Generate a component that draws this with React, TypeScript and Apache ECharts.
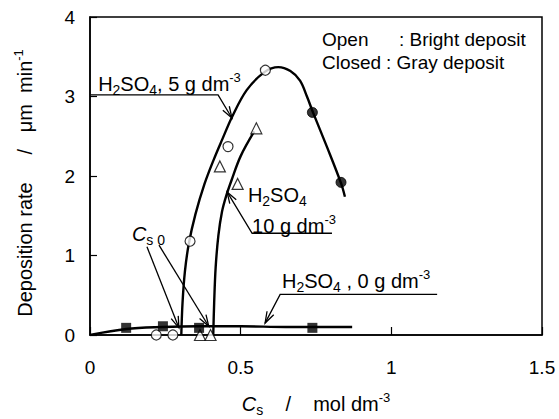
import React, { useEffect, useRef } from 'react';
import * as echarts from 'echarts';

const FONT = '"Liberation Sans", Arial, Helvetica, sans-serif';

// axis ranges / ticks
const xTicks = [0, 0.5, 1, 1.5];
const yTicks = [0, 1, 2, 3, 4];

// fitted curves
const curve5g = [
  [0.303, 0], [0.307, 0.4], [0.315, 0.8], [0.328, 1.15], [0.35, 1.52], [0.38, 1.9],
  [0.41, 2.2], [0.44, 2.47], [0.471, 2.74], [0.52, 3.08], [0.58, 3.31], [0.625, 3.37],
  [0.665, 3.32], [0.697, 3.2], [0.72, 3.0], [0.74, 2.8], [0.787, 2.36], [0.833, 1.91], [0.846, 1.74],
];
const curve10g = [
  [0.409, 0], [0.412, 0.4], [0.417, 0.85], [0.426, 1.25], [0.438, 1.55], [0.452, 1.75],
  [0.47, 1.95], [0.5, 2.25], [0.545, 2.56],
];
const curve0g = [
  [0, 0], [0.12, 0.075], [0.24, 0.1], [0.36, 0.11], [0.5, 0.11], [0.65, 0.1], [0.87, 0.1],
];

// measured points
const openCircles = [[0.22, 0], [0.275, 0], [0.332, 1.18], [0.458, 2.37], [0.582, 3.33]];
const filledCircles = [[0.738, 2.8], [0.833, 1.92]];
const openTriangles = [[0.365, 0], [0.4, 0], [0.431, 2.12], [0.49, 1.9], [0.552, 2.6]];
const filledSquares = [[0.12, 0.09], [0.242, 0.11], [0.362, 0.09], [0.738, 0.09]];

// annotation leader lines (data coordinates, arrow at the last point)
const arrowPaths = [
  [[0.003, 3.02], [0.425, 3.02], [0.471, 2.73]],
  [[0.803, 1.28], [0.538, 1.28], [0.455, 1.8]],
  [[1.152, 0.51], [0.631, 0.51], [0.581, 0.15]],
  [[0.189, 1.11], [0.295, 0.09]],
  [[0.229, 1.13], [0.394, 0.11]],
];

// annotation labels (data coordinates of left-middle anchor)
const annotationTexts = [
  { at: [0.027, 3.16], text: 'H{sub|2}SO{sub|4}, 5 g dm{sup|-3}' },
  { at: [0.524, 1.76], text: 'H{sub|2}SO{sub|4}' },
  { at: [0.538, 1.37], text: '10 g dm{sup|-3}' },
  { at: [0.637, 0.68], text: 'H{sub|2}SO{sub|4} , 0 g dm{sup|-3}' },
  { at: [0.139, 1.27], text: '{i|C}{sub|s 0}' },
];

const legendRows = [
  { key: 'Open', desc: ': Bright deposit', descX: 399 },
  { key: 'Closed', desc: ': Gray deposit', descX: 386 },
];

const rich = {
  sub: { fontSize: 14, fontFamily: FONT, verticalAlign: 'bottom', lineHeight: 26, fill: '#000', color: '#000' },
  sup: { fontSize: 13, fontFamily: FONT, verticalAlign: 'top', lineHeight: 26, fill: '#000', color: '#000' },
  i: { fontSize: 20, fontFamily: FONT, fontStyle: 'italic', lineHeight: 26, fill: '#000', color: '#000' },
};

export default function App() {
  const ref = useRef<HTMLDivElement>(null);
  useEffect(() => {
    if (!ref.current) return;
    const chart = echarts.init(ref.current, undefined, { renderer: 'svg' });
    const lineStyle = { color: '#000', width: 2.4 };
    const option: any = {
      animation: false,
      backgroundColor: '#fff',
      grid: {
        left: 90, right: 17, top: 17, bottom: 84, containLabel: false, outerBoundsMode: 'none',
        show: true, borderColor: '#000', borderWidth: 1.5, backgroundColor: 'transparent',
      },
      xAxis: {
        type: 'value', min: xTicks[0], max: xTicks[xTicks.length - 1], interval: 0.5,
        axisLine: { show: true, lineStyle: { color: '#000', width: 1.5 } },
        axisTick: { show: true, inside: true, length: 8, lineStyle: { color: '#000', width: 1.2 } },
        splitLine: { show: false },
        axisLabel: { color: '#000', fontSize: 19, fontFamily: FONT, margin: 23 },
        name: '{i|C}{sub|s}    /    mol dm{sup|-3}',
        nameLocation: 'middle', nameGap: 56,
        nameTextStyle: { color: '#000', fontSize: 20, fontFamily: FONT, lineHeight: 26, rich },
      },
      yAxis: {
        type: 'value', min: yTicks[0], max: yTicks[yTicks.length - 1], interval: 1,
        axisLine: { show: true, lineStyle: { color: '#000', width: 1.5 } },
        axisTick: { show: true, inside: true, length: 7, lineStyle: { color: '#000', width: 1.2 } },
        splitLine: { show: false },
        axisLabel: { color: '#000', fontSize: 19, fontFamily: FONT, margin: 15 },
        name: 'Deposition rate     /   μm  min{sup|-1}',
        nameLocation: 'middle', nameGap: 52, nameRotate: 90,
        nameTextStyle: { color: '#000', fontSize: 20, fontFamily: FONT, lineHeight: 26, padding: [0, 14, 0, 0], rich },
      },
      series: [
        { type: 'line', data: curve5g, smooth: 0.35, showSymbol: false, symbol: 'none', lineStyle, z: 3 },
        { type: 'line', data: curve10g, smooth: 0.35, showSymbol: false, symbol: 'none', lineStyle, z: 3 },
        { type: 'line', data: curve0g, smooth: 0.35, showSymbol: false, symbol: 'none', lineStyle, z: 3 },
        { type: 'scatter', data: openCircles, symbol: 'circle', symbolSize: 10, itemStyle: { color: '#fff', borderColor: '#000', borderWidth: 1.2 }, z: 5 },
        { type: 'scatter', data: filledCircles, symbol: 'circle', symbolSize: 10, itemStyle: { color: '#000', borderColor: '#000', borderWidth: 1 }, z: 5 },
        { type: 'scatter', data: openTriangles, symbol: 'triangle', symbolSize: 11, itemStyle: { color: '#fff', borderColor: '#000', borderWidth: 1.2 }, z: 5 },
        { type: 'scatter', data: filledSquares, symbol: 'rect', symbolSize: 10, itemStyle: { color: '#000' }, z: 5 },
        {
          type: 'custom', z: 4, silent: true,
          data: arrowPaths.map((p) => p[p.length - 1]),
          renderItem: (params: any, api: any) => {
            const pts = arrowPaths[params.dataIndex].map((p) => api.coord(p));
            const n = pts.length;
            const [x2, y2] = pts[n - 1];
            const [x1, y1] = pts[n - 2];
            const len = Math.hypot(x2 - x1, y2 - y1) || 1;
            const bx = -(x2 - x1) / len, by = -(y2 - y1) / len;
            const L = 12, a = 0.32, c = Math.cos(a), s = Math.sin(a);
            const h1 = [x2 + L * (bx * c - by * s), y2 + L * (bx * s + by * c)];
            const h2 = [x2 + L * (bx * c + by * s), y2 + L * (-bx * s + by * c)];
            const st = { stroke: '#000', lineWidth: 1.3, fill: 'none' };
            return {
              type: 'group',
              children: [
                { type: 'polyline', shape: { points: pts }, style: st },
                { type: 'polyline', shape: { points: [h1, [x2, y2], h2] }, style: st },
              ],
            };
          },
        },
        {
          type: 'custom', z: 6, silent: true,
          data: annotationTexts.map((t) => t.at),
          renderItem: (params: any, api: any) => {
            const t = annotationTexts[params.dataIndex];
            const [x, y] = api.coord(t.at);
            return {
              type: 'text', x, y,
              style: {
                text: t.text, fontSize: 20, fontFamily: FONT, fill: '#000',
                align: 'left', verticalAlign: 'middle', lineHeight: 26, rich,
              },
            };
          },
        },
      ],
      graphic: legendRows.flatMap((r, i) => [
        { type: 'text', left: 322, top: 30 + i * 23, style: { text: r.key, fontSize: 19, fontFamily: FONT, fill: '#000' } },
        { type: 'text', left: r.descX, top: 30 + i * 23, style: { text: r.desc, fontSize: 19, fontFamily: FONT, fill: '#000' } },
      ]),
    };
    chart.setOption(option);
    return () => chart.dispose();
  }, []);
  return <div ref={ref} style={{ width: 559, height: 419, position: 'absolute', left: 0, top: 0, background: '#fff' }} />;
}
